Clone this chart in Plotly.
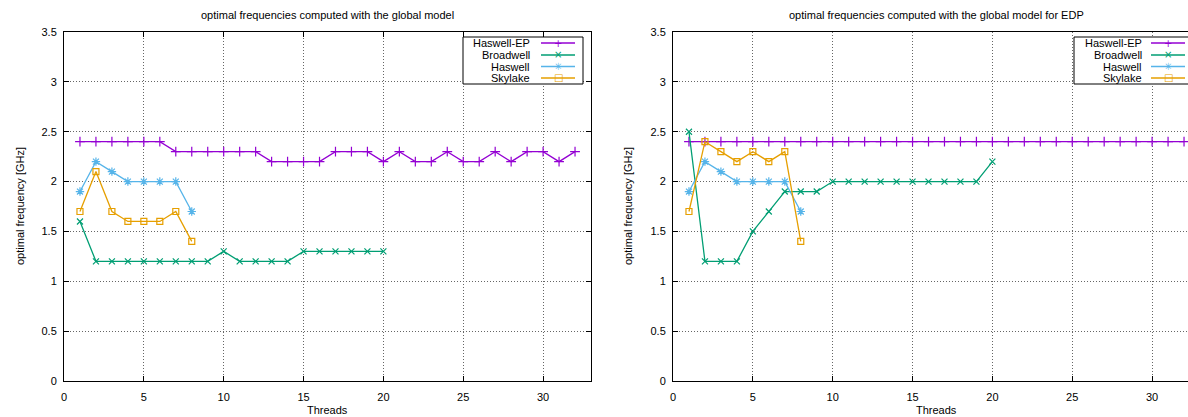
import plotly.graph_objects as go

# ---------------- data ----------------
threads_32 = list(range(1, 33))
threads_20 = list(range(1, 21))
threads_8 = list(range(1, 9))

series_names = ["Haswell-EP", "Broadwell", "Haswell", "Skylake"]

hep_global = [2.4, 2.4, 2.4, 2.4, 2.4, 2.4, 2.3, 2.3, 2.3, 2.3, 2.3, 2.3, 2.2, 2.2, 2.2, 2.2,
              2.3, 2.3, 2.3, 2.2, 2.3, 2.2, 2.2, 2.3, 2.2, 2.2, 2.3, 2.2, 2.3, 2.3, 2.2, 2.3]
bdw_global = [1.6, 1.2, 1.2, 1.2, 1.2, 1.2, 1.2, 1.2, 1.2, 1.3,
              1.2, 1.2, 1.2, 1.2, 1.3, 1.3, 1.3, 1.3, 1.3, 1.3]
hsw_global = [1.9, 2.2, 2.1, 2.0, 2.0, 2.0, 2.0, 1.7]
skl_global = [1.7, 2.1, 1.7, 1.6, 1.6, 1.6, 1.7, 1.4]

hep_edp = [2.4, 2.4, 2.4, 2.4, 2.4, 2.4, 2.4, 2.4, 2.4, 2.4, 2.4, 2.4, 2.4, 2.4, 2.4, 2.4,
           2.4, 2.4, 2.4, 2.4, 2.4, 2.4, 2.4, 2.4, 2.4, 2.4, 2.4, 2.4, 2.4, 2.4, 2.4, 2.4]
bdw_edp = [2.5, 1.2, 1.2, 1.2, 1.5, 1.7, 1.9, 1.9, 1.9, 2.0,
           2.0, 2.0, 2.0, 2.0, 2.0, 2.0, 2.0, 2.0, 2.0, 2.2]
hsw_edp = [1.9, 2.2, 2.1, 2.0, 2.0, 2.0, 2.0, 1.7]
skl_edp = [1.7, 2.4, 2.3, 2.2, 2.3, 2.2, 2.3, 1.4]

x_ticks = [0, 5, 10, 15, 20, 25, 30]
y_ticks = [0, 0.5, 1, 1.5, 2, 2.5, 3, 3.5]

title_left = "optimal frequencies computed with the global model"
title_right = "optimal frequencies computed with the global model for EDP"
x_title = "Threads"
y_title = "optimal frequency [GHz]"

# ---------------- styles ----------------
colors = ["#9400d3", "#009e73", "#56b4e9", "#e69f00"]
symbols = ["cross-thin", "x-thin", "asterisk-open", "square-open"]
msizes = [7, 6, 7, 6]
glyphs = ["+", "×", "✳", "□"]
FONT = "Liberation Sans, Arial, sans-serif"

W, H = 1188, 417
ML, MR, MT, MB = 64, 0, 32, 36
PW, PH = W - ML - MR, H - MT - MB


def px(x):
    return (x - ML) / PW


def py(y):
    return (H - MB - y) / PH


fig = go.Figure()

panels = [
    ("x", "y", [(threads_32, hep_global), (threads_20, bdw_global), (threads_8, hsw_global), (threads_8, skl_global)]),
    ("x2", "y2", [(threads_32, hep_edp), (threads_20, bdw_edp), (threads_8, hsw_edp), (threads_8, skl_edp)]),
]
for xa, ya, sers in panels:
    for i, (xs, ys) in enumerate(sers):
        fig.add_trace(go.Scatter(
            x=xs, y=ys, xaxis=xa, yaxis=ya, mode="lines+markers", name=series_names[i],
            showlegend=False,
            line=dict(color=colors[i], width=1.3),
            marker=dict(symbol=symbols[i], size=msizes[i], color=colors[i],
                        line=dict(color=colors[i], width=1.2)),
        ))

axis_common = dict(
    showline=True, linecolor="black", linewidth=1,
    ticks="inside", ticklen=5, tickcolor="black", tickwidth=1,
    showgrid=True, gridcolor="#666666", griddash="1px,2px", gridwidth=1,
    zeroline=False, tickfont=dict(size=11, color="black", family=FONT),
)

dom1 = [0, px(591)]
dom2 = [px(673), 1.0]
x2max = (W - 673) / ((591 - 64) / 33)

fig.update_layout(
    width=W, height=H,
    margin=dict(l=ML, r=MR, t=MT, b=MB, autoexpand=False),
    paper_bgcolor="white", plot_bgcolor="white",
    font=dict(family=FONT, size=11, color="black"),
    showlegend=False,
    xaxis=dict(domain=dom1, range=[0, 33], tickvals=x_ticks, anchor="y", mirror="ticks",
               ticklabelstandoff=6, **axis_common),
    yaxis=dict(domain=[0, 1], range=[0, 3.5], tickvals=y_ticks, anchor="x", mirror="ticks",
               ticklabelstandoff=4, **axis_common),
    xaxis2=dict(domain=dom2, range=[0, x2max], tickvals=x_ticks, anchor="y2", mirror=True,
                ticklabelstandoff=6, **axis_common),
    yaxis2=dict(domain=[0, 1], range=[0, 3.5], tickvals=y_ticks, anchor="x2", mirror=False,
                ticklabelstandoff=4, **axis_common),
)

ann = []
shapes = []
# titles and axis titles
for xref, t, ycx in [("x", title_left, 20), ("x2", title_right, 628)]:
    ann.append(dict(text=t, xref=xref, x=16.5, yref="paper", y=py(15), showarrow=False,
                    xanchor="center", yanchor="middle", font=dict(size=11)))
    ann.append(dict(text=x_title, xref=xref, x=16.5, yref="paper", y=py(410), showarrow=False,
                    xanchor="center", yanchor="middle", font=dict(size=11)))
    ann.append(dict(text=y_title, xref="paper", x=px(ycx), yref="paper", y=py(206), showarrow=False,
                    textangle=-90, xanchor="center", yanchor="middle", font=dict(size=11)))

# custom gnuplot-style key boxes
row_y = [43, 55, 66.5, 78]
for box_l, box_r, txt_r, ln_l, ln_r in [(463, 583, 532, 541, 575), (1074, 1194, 1144, 1151, 1185)]:
    shapes.append(dict(type="rect", xref="paper", yref="paper", x0=px(box_l), x1=px(box_r),
                       y0=py(84), y1=py(37), line=dict(color="black", width=1),
                       fillcolor="white", layer="above"))
    for i, name in enumerate(series_names):
        ann.append(dict(text=name, xref="paper", x=px(txt_r), yref="paper", y=py(row_y[i]),
                        showarrow=False, xanchor="right", yanchor="middle", font=dict(size=11)))
        shapes.append(dict(type="line", xref="paper", yref="paper", x0=px(ln_l), x1=px(ln_r),
                           y0=py(row_y[i]), y1=py(row_y[i]), line=dict(color=colors[i], width=1.3),
                           layer="above"))
        ann.append(dict(text=glyphs[i], xref="paper", x=px((ln_l + ln_r) / 2), yref="paper",
                        y=py(row_y[i]), showarrow=False, xanchor="center", yanchor="middle",
                        font=dict(size=10, color=colors[i], family="DejaVu Sans")))

fig.update_layout(annotations=ann, shapes=shapes)
fig.write_html("out.html", config={"displayModeBar": False},
               post_script="document.body.style.margin='0';document.body.style.overflow='hidden';")
